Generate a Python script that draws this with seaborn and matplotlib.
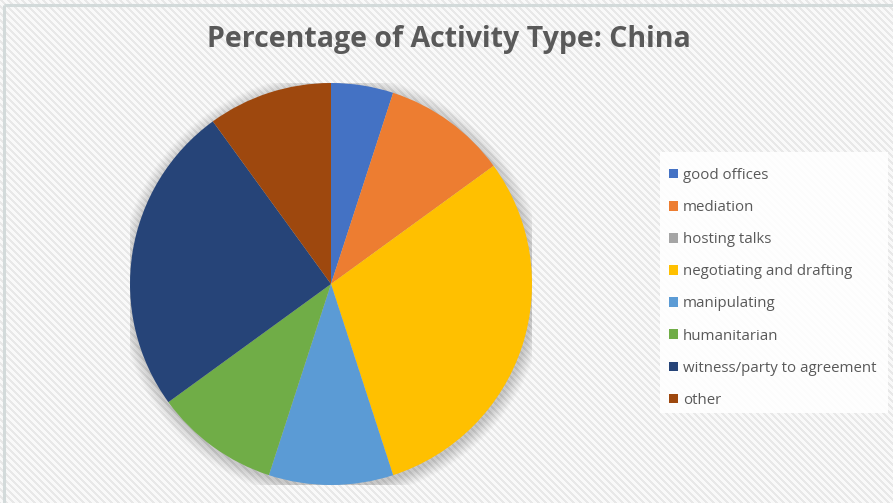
import numpy as np
import matplotlib
matplotlib.use("Agg")
import matplotlib.pyplot as plt
from matplotlib.patches import Circle, Rectangle
import seaborn as sns

# Share of China's peace-process activity by type (percent)
activities = [
    "good offices",
    "mediation",
    "hosting talks",
    "negotiating and drafting",
    "manipulating",
    "humanitarian",
    "witness/party to agreement",
    "other",
]
shares = [5, 10, 0, 30, 10, 10, 25, 10]
slice_colors = ["#4472C4", "#ED7D31", "#A5A5A5", "#FFC000",
                "#5B9BD5", "#70AD47", "#264478", "#9E480E"]
title_text = "Percentage of Activity Type: China"

sns.set_theme(style="white")
plt.rcParams["font.family"] = ["Open Sans", "DejaVu Sans"]

W, H, DPI = 893, 503, 100
fig = plt.figure(figsize=(W / DPI, H / DPI), dpi=DPI)
fig.patch.set_facecolor("white")

# Diagonal striped backdrop
bg = fig.add_axes([0, 0, 1, 1], zorder=0)
yy, xx = np.mgrid[0:H, 0:W]
stripes = ((xx - yy) % 7 < 3).astype(float)
bg.imshow(stripes, cmap=matplotlib.colors.ListedColormap(["#f9f9f9", "#e8e8e8"]),
          extent=[0, W, H, 0], interpolation="bilinear", aspect="auto")
bg.set_xlim(0, W)
bg.set_ylim(H, 0)
bg.axis("off")
# frame edge along top and left
bg.plot([4, W], [5, 5], color="#d3dada", lw=2.2, solid_capstyle="butt")
bg.plot([4, 4], [5, H], color="#d3dada", lw=2.2, solid_capstyle="butt")
# legend panel
bg.add_patch(Rectangle((660, 152), 228, 261, facecolor="white", edgecolor="none", alpha=0.9))

# Pie
cx, cy, r = 331, 284, 201
ax = fig.add_axes([(cx - r) / W, (H - cy - r) / H, 2 * r / W, 2 * r / H], zorder=2)
ax.axis("off")

palette = sns.color_palette(slice_colors)
wedges, _ = ax.pie(shares, colors=palette, startangle=90, counterclock=False,
                   radius=1, wedgeprops=dict(linewidth=0))
for w in wedges:
    w.set_zorder(2)

# soft shadow around the pie
for i in range(16):
    grow = 0.004 * (i + 1)
    ax.add_patch(Circle((0.006, -0.014), 1 + grow, facecolor="#000000",
                        alpha=0.012, edgecolor="none", zorder=0))

ax.set_xlim(-1, 1)
ax.set_ylim(-1, 1)
ax.set_aspect("equal")

leg = fig.legend(wedges, activities, loc="upper left",
                 bbox_to_anchor=(663 / W, 1 - 162 / H),
                 frameon=False, fontsize=10.8, labelcolor="#595959",
                 handlelength=0.6, handleheight=0.6, handletextpad=0.33,
                 labelspacing=1.14, borderaxespad=0)

fig.text(449 / W, 1 - 40 / H, title_text, ha="center", va="center",
         fontsize=20.5, fontweight="bold", color="#595959")

fig.savefig("out.png", dpi=DPI)
